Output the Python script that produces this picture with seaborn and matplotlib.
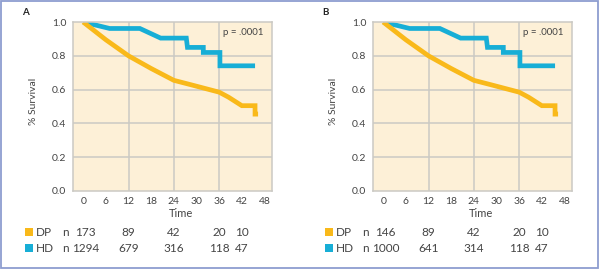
import numpy as np
import pandas as pd
import matplotlib
matplotlib.use("Agg")
import matplotlib.pyplot as plt
from matplotlib.patches import Rectangle
from matplotlib.transforms import blended_transform_factory
import seaborn as sns

# survival curves (same shape in both panels)
dp_time = [0, 6, 12, 18, 24, 28, 36, 38.5, 42, 45.5, 45.5, 46.3]
dp_surv = [1.0, 0.895, 0.8, 0.725, 0.655, 0.632, 0.585, 0.555, 0.505, 0.505, 0.455, 0.455]
hd_time = [0, 7, 15, 20.5, 27.3, 27.6, 31.8, 31.8, 36.2, 36.2, 45.5]
hd_surv = [1.0, 0.962, 0.962, 0.905, 0.905, 0.85, 0.85, 0.82, 0.82, 0.741, 0.741]

# numbers at risk
risk_times = [0, 12, 24, 36, 42]
dp_risk_a = [173, 89, 42, 20, 10]
hd_risk_a = [1294, 679, 316, 118, 47]
dp_risk_b = [146, 89, 42, 20, 10]
hd_risk_b = [1000, 641, 314, 118, 47]

panels = ["A", "B"]
p_text = "p = .0001"
xticks = [0, 6, 12, 18, 24, 30, 36, 42, 48]
yticks = [0.0, 0.2, 0.4, 0.6, 0.8, 1.0]

DP_COL = "#f9b91a"
HD_COL = "#17aed6"
BG = "#fdf0d7"
GRID = "#cbc9c4"
TXT = "#444444"

sns.set_style("white")
plt.rcParams["font.family"] = ["Lato", "DejaVu Sans"]

fig = plt.figure(figsize=(6, 2.69), dpi=100)

risk = {"A": (dp_risk_a, hd_risk_a), "B": (dp_risk_b, hd_risk_b)}

for i, name in enumerate(panels):
    off = i * 0.5
    ax = fig.add_axes([0.1217 + off, 0.29, 0.3317, 0.628])
    ax.set_facecolor(BG)
    for v in [12, 24, 36]:
        ax.axvline(v, color=GRID, lw=1.1, zorder=0)
    for h in [0.2, 0.4, 0.6, 0.8]:
        ax.axhline(h, color=GRID, lw=1.1, zorder=0)

    sns.lineplot(x=hd_time, y=hd_surv, estimator=None, sort=False, color=HD_COL,
                 lw=3.4, ax=ax, solid_capstyle="butt", solid_joinstyle="miter")
    sns.lineplot(x=dp_time, y=dp_surv, estimator=None, sort=False, color=DP_COL,
                 lw=3.4, ax=ax, solid_capstyle="butt", solid_joinstyle="miter")

    ax.set_xlim(-2.7, 50)
    ax.set_ylim(0, 1.0)
    ax.set_xticks(xticks)
    ax.set_yticks(yticks)
    ax.set_yticklabels([f"{t:.1f}" for t in yticks])
    ax.tick_params(length=0, labelsize=7.5, colors=TXT)
    ax.tick_params(axis="y", pad=5)
    ax.tick_params(axis="x", pad=4)
    for s in ax.spines.values():
        s.set_color(GRID)
        s.set_linewidth(1.1)
        s.set_visible(True)

    ax.set_ylabel("% Survival", fontsize=7.5, color=TXT)
    ax.yaxis.set_label_coords(-0.175, 0.53)
    ax.set_xlabel("Time", fontsize=8, color=TXT)
    ax.xaxis.set_label_coords(0.543, -0.1)
    ax.xaxis.label.set_va("top")

    ax.text(42.3, 0.94, p_text, fontsize=7, color=TXT, ha="center", va="center")

    fig.text(0.042 + off, 0.955, name, fontsize=7, fontweight="bold", ha="center",
             va="center", color="#222222")

    # number-at-risk table
    tr = blended_transform_factory(ax.transData, fig.transFigure)
    rows = [("DP", DP_COL, risk[name][0], 0.1375), ("HD", HD_COL, risk[name][1], 0.078)]
    for lab, col, vals, yy in rows:
        fig.add_artist(Rectangle((0.0415 + off, yy - 0.016), 0.0135, 0.030,
                                 transform=fig.transFigure, facecolor=col, lw=0))
        fig.text(0.059 + off, yy, lab, fontsize=8.5, color=TXT, va="center")
        fig.text(0.103 + off, yy, "n", fontsize=8.5, color=TXT, va="center")
        for t, v in zip(risk_times, vals):
            ax.text(t + (0.6 if t == 0 else 0), yy, str(v), transform=tr,
                    fontsize=8.5, color=TXT, ha="center", va="center")

fig.add_artist(Rectangle((0.002, 0.004), 0.995, 0.992, transform=fig.transFigure,
                         fill=False, edgecolor="#8d9dd0", lw=1.3))

fig.savefig("out.png", dpi=100)
